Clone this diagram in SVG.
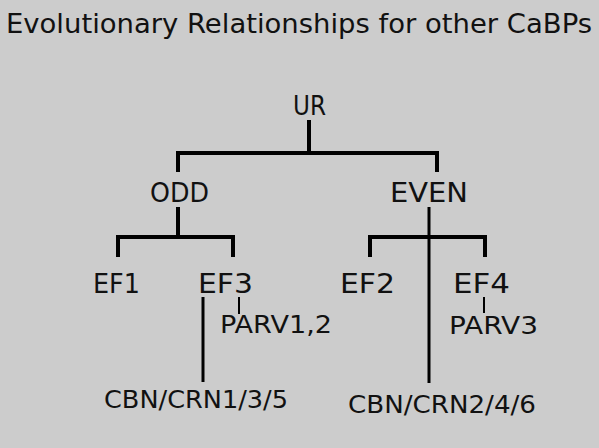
<svg xmlns="http://www.w3.org/2000/svg" width="599" height="448" viewBox="0 0 599 448">
<style>
text{font-family:"DejaVu Sans","Liberation Sans",sans-serif;fill:#111;}
.t{font-size:26px;}
.s{font-size:24px;}
.c{stroke:#000;fill:none;stroke-linecap:butt;}
.thick{stroke-width:4;}
.mid{stroke-width:3;}
.thin{stroke-width:2;}
</style>
<rect width="599" height="448" fill="#cccccc"/>
<text id="title" x="6" y="33" class="t" textLength="586" lengthAdjust="spacingAndGlyphs">Evolutionary Relationships for other CaBPs</text>
<g id="connectors">
<path class="c thick" d="M309 120V153M178 172V153H437V172"/>
<path class="c thick" d="M178 207V237M118 257V237H233V257"/>
<path class="c thick" d="M370 257V237H485V257"/>
<path class="c mid" d="M429 207V383"/>
<path class="c mid" d="M203 297V382"/>
<path class="c thin" d="M239 297V314M484 297V313"/>
</g>
<g id="UR"><text x="293" y="115" class="t" textLength="33" lengthAdjust="spacingAndGlyphs">UR</text></g>
<g id="ODD"><text x="150" y="202" class="t" textLength="59" lengthAdjust="spacingAndGlyphs">ODD</text></g>
<g id="EVEN"><text x="390" y="202" class="t" textLength="78" lengthAdjust="spacingAndGlyphs">EVEN</text></g>
<g id="EF1"><text x="93" y="293" class="t" textLength="47" lengthAdjust="spacingAndGlyphs">EF1</text></g>
<g id="EF3"><text x="198" y="293" class="t" textLength="55" lengthAdjust="spacingAndGlyphs">EF3</text></g>
<g id="EF2"><text x="340" y="293" class="t" textLength="55" lengthAdjust="spacingAndGlyphs">EF2</text></g>
<g id="EF4"><text x="453" y="293" class="t" textLength="57" lengthAdjust="spacingAndGlyphs">EF4</text></g>
<g id="PARV12"><text x="220" y="333" class="s" textLength="112" lengthAdjust="spacingAndGlyphs">PARV1,2</text></g>
<g id="PARV3"><text x="449" y="334" class="s" textLength="89" lengthAdjust="spacingAndGlyphs">PARV3</text></g>
<g id="CBN135"><text x="104" y="408" class="s" textLength="184" lengthAdjust="spacingAndGlyphs">CBN/CRN1/3/5</text></g>
<g id="CBN246"><text x="348" y="413" class="s" textLength="188" lengthAdjust="spacingAndGlyphs">CBN/CRN2/4/6</text></g>
</svg>
